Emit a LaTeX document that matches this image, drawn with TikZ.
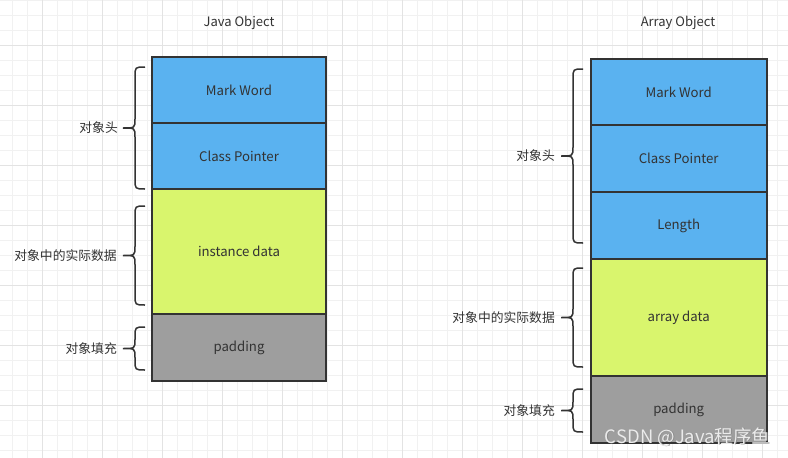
\documentclass[tikz,border=0pt]{standalone}
\usepackage{fontspec}
\setmainfont{Noto Sans CJK SC}
\usetikzlibrary{positioning}
\definecolor{gridminor}{HTML}{F1F1F1}
\definecolor{gridmajor}{HTML}{E3E3E3}
\definecolor{headblue}{HTML}{5AB2F0}
\definecolor{datagreen}{HTML}{D9F56D}
\definecolor{padgray}{HTML}{9E9E9E}
\definecolor{inkgray}{HTML}{333333}
% side brace: (tip x, top y, bottom y)
\def\sidebrace(#1,#2,#3){\draw[bracepen] (#1,#2) .. controls (#1-10,#2) .. (#1-10,#2+10) -- (#1-10,{(#2+#3)/2-9}) .. controls (#1-10,{(#2+#3)/2}) .. (#1-22,{(#2+#3)/2}) .. controls (#1-10,{(#2+#3)/2}) .. (#1-10,{(#2+#3)/2+9}) -- (#1-10,#3-10) .. controls (#1-10,#3) .. (#1,#3);}

\begin{document}
\begin{tikzpicture}[x=1pt, y=-1pt,
    cell/.style={draw=inkgray, line width=2pt, outer sep=0pt, inner sep=0pt, text=inkgray, font=\fontsize{13.2}{15}\selectfont},
    bracepen/.style={draw=inkgray, line width=1.5pt},
    sidelabel/.style={anchor=east, inner sep=0pt, text=inkgray, font=\fontsize{12.8}{14}\selectfont},
    title/.style={text=inkgray, font=\fontsize{13}{15}\selectfont}]
		\useasboundingbox (0,0) rectangle (788,458);
		\fill[white] (0,0) rectangle (788,458);
		
		%%%%% GRID %%%%%
		\foreach \k in {0,...,53} \draw[gridminor, line width=1pt] ({-2.3+15*\k},0) -- ({-2.3+15*\k},458);
		\foreach \k in {0,...,30} \draw[gridminor, line width=1pt] (0,{15*\k}) -- (788,{15*\k});
		\foreach \k in {0,...,12} \draw[gridmajor, line width=1pt] ({42.7+60*\k},0) -- ({42.7+60*\k},458);
		\foreach \k in {0,...,6} \draw[gridmajor, line width=1pt] (0,{45+60*\k}) -- (788,{45+60*\k});
		
		%%%%% JAVA OBJECT %%%%%
		\node[title] (jtitle) at (239,23) {Java Object};
		\node[cell, fill=headblue, minimum width=174pt, minimum height=66pt] (jmark) at (239,90) {Mark Word};
		\node[cell, fill=headblue, minimum width=174pt, minimum height=66pt, below=0pt of jmark] (jclass) {Class Pointer};
		\node[cell, fill=datagreen, minimum width=174pt, minimum height=125pt, below=0pt of jclass] (jdata) {instance data};
		\node[cell, fill=padgray, minimum width=174pt, minimum height=67pt, below=0pt of jdata] (jpad) {padding};
		
		\sidebrace(145,67,189)
		\sidebrace(145,206,305)
		\sidebrace(145,327,370)
		\node[sidelabel] (jheadlbl) at (118,128) {对象头};
		\node[sidelabel] (jdatalbl) at (117,256) {对象中的实际数据};
		\node[sidelabel] (jpadlbl) at (117,348.5) {对象填充};
		
		%%%%% ARRAY OBJECT %%%%%
		\node[title] (atitle) at (678,23) {Array Object};
		\node[cell, fill=headblue, minimum width=176pt, minimum height=66pt] (amark) at (678.7,92) {Mark Word};
		\node[cell, fill=headblue, minimum width=176pt, minimum height=67pt, below=0pt of amark] (aclass) {Class Pointer};
		\node[cell, fill=headblue, minimum width=176pt, minimum height=67pt, below=0pt of aclass] (alen) {Length};
		\node[cell, fill=datagreen, minimum width=176pt, minimum height=117pt, below=0pt of alen] (adata) {array data};
		\node[cell, fill=padgray, minimum width=176pt, minimum height=67pt, below=0pt of adata] (apad) {padding};
		
		\sidebrace(583,69,243)
		\sidebrace(583,268,367)
		\sidebrace(583,389,432)
		\node[sidelabel] (aheadlbl) at (555,156) {对象头};
		\node[sidelabel] (adatalbl) at (555,318) {对象中的实际数据};
		\node[sidelabel] (apadlbl) at (555,411) {对象填充};
		
		%%%%% WATERMARK %%%%%
		\node[text=black!45, font=\fontsize{18.5}{20}\selectfont] (markshade) at (688.3,437.6) {CSDN @Java程序鱼};
		\node[text=white!92!black, font=\fontsize{18.5}{20}\selectfont] (mark) at (687.7,437) {CSDN @Java程序鱼};
\end{tikzpicture}
\end{document}
